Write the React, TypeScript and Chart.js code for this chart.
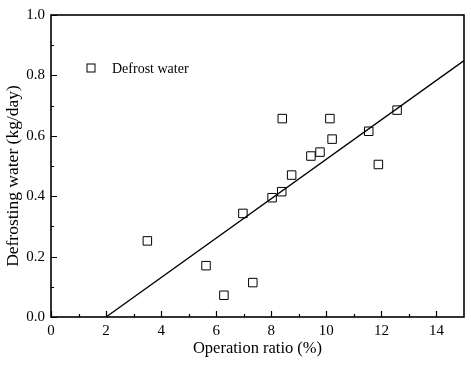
import React, { useEffect, useRef } from "react";
import { Chart, registerables } from "chart.js";

Chart.register(...registerables);

const operationRatio = [3.5, 5.63, 6.28, 6.97, 7.33, 8.03, 8.38, 8.4, 8.74, 9.44, 9.77, 10.13, 10.21, 11.54, 11.89, 12.57];
const defrostWater = [0.252, 0.17, 0.072, 0.343, 0.114, 0.395, 0.415, 0.657, 0.47, 0.533, 0.546, 0.657, 0.589, 0.615, 0.505, 0.685];
const fitX = [2, 15];
const fitY = [0, 0.849];
const xMajorTicks = [0, 2, 4, 6, 8, 10, 12, 14];
const xMinorTicks = [1, 3, 5, 7, 9, 11, 13];
const yMajorTicks = [0, 0.2, 0.4, 0.6, 0.8, 1.0];
const yMinorTicks = [0.1, 0.3, 0.5, 0.7, 0.9];
const seriesLabel = "Defrost water";
const xTitle = "Operation ratio (%)";
const yTitle = "Defrosting water (kg/day)";

const FONT = "'Liberation Serif', 'Times New Roman', serif";

const framePlugin = {
  id: "frameTicks",
  afterDraw(chart: any) {
    const { ctx, chartArea, scales } = chart;
    const { left, right, top, bottom } = chartArea;
    ctx.save();
    ctx.strokeStyle = "#000";
    ctx.lineWidth = 1.6;
    ctx.strokeRect(left, top, right - left, bottom - top);
    ctx.lineWidth = 1.2;
    const xs = scales.x;
    const ys = scales.y;
    ctx.beginPath();
    xMajorTicks.forEach((v) => {
      const p = Math.round(xs.getPixelForValue(v)) + 0.5;
      ctx.moveTo(p, bottom);
      ctx.lineTo(p, bottom - 6);
    });
    xMinorTicks.forEach((v) => {
      const p = Math.round(xs.getPixelForValue(v)) + 0.5;
      ctx.moveTo(p, bottom);
      ctx.lineTo(p, bottom - 3);
    });
    yMajorTicks.forEach((v) => {
      const p = Math.round(ys.getPixelForValue(v)) + 0.5;
      ctx.moveTo(left, p);
      ctx.lineTo(left + 6, p);
    });
    yMinorTicks.forEach((v) => {
      const p = Math.round(ys.getPixelForValue(v)) + 0.5;
      ctx.moveTo(left, p);
      ctx.lineTo(left + 3, p);
    });
    ctx.stroke();

    // legend
    const lx = left + 40;
    const ly = top + 53;
    ctx.lineWidth = 1;
    ctx.strokeStyle = "#000";
    ctx.strokeRect(lx - 4, ly - 4, 8, 8);
    ctx.fillStyle = "#000";
    ctx.font = `14px ${FONT}`;
    ctx.textBaseline = "middle";
    ctx.textAlign = "left";
    ctx.fillText(seriesLabel, lx + 21, ly + 1);

    // y title
    ctx.save();
    ctx.translate(13, (top + bottom) / 2 + 10);
    ctx.rotate(-Math.PI / 2);
    ctx.font = `17.5px ${FONT}`;
    ctx.textAlign = "center";
    ctx.textBaseline = "middle";
    ctx.fillText(yTitle, 0, 0);
    ctx.restore();
    ctx.restore();
  },
};

export default function App() {
  const ref = useRef<HTMLCanvasElement>(null);
  useEffect(() => {
    if (!ref.current) return;
    const chart = new Chart(ref.current, {
      type: "scatter",
      data: {
        datasets: [
          {
            label: seriesLabel,
            data: operationRatio.map((x, i) => ({ x, y: defrostWater[i] })),
            pointStyle: "rect",
            pointRadius: 6,
            pointBorderWidth: 1,
            pointBorderColor: "#000",
            pointBackgroundColor: "rgba(0,0,0,0)",
            showLine: false,
          },
          {
            label: "fit",
            data: fitX.map((x, i) => ({ x, y: fitY[i] })),
            showLine: true,
            borderColor: "#000",
            borderWidth: 1.3,
            pointRadius: 0,
            fill: false,
          },
        ],
      },
      options: {
        animation: false,
        responsive: false,
        layout: { padding: { top: 11, right: 7, left: 0, bottom: 12 } },
        plugins: { legend: { display: false }, tooltip: { enabled: false } },
        scales: {
          x: {
            type: "linear",
            min: 0,
            max: 15,
            afterBuildTicks: (s: any) => {
              s.ticks = xMajorTicks.map((v) => ({ value: v }));
            },
            afterFit: (s: any) => {
              s.height = 42;
            },
            grid: { display: false, drawTicks: false },
            border: { display: false },
            ticks: {
              color: "#000",
              font: { family: FONT, size: 15 },
              padding: 5,
              callback: (v: any) => String(v),
            },
            title: {
              display: true,
              text: xTitle,
              color: "#000",
              font: { family: FONT, size: 16.5 },
              padding: { top: 1, bottom: 0 },
            },
          },
          y: {
            type: "linear",
            min: 0,
            max: 1,
            afterBuildTicks: (s: any) => {
              s.ticks = yMajorTicks.map((v) => ({ value: v }));
            },
            afterFit: (s: any) => {
              s.width = 51;
            },
            grid: { display: false, drawTicks: false },
            border: { display: false },
            ticks: {
              color: "#000",
              font: { family: FONT, size: 15 },
              padding: 6,
              callback: (v: any) => Number(v).toFixed(1),
            },
          },
        },
      },
      plugins: [framePlugin],
    });
    return () => chart.destroy();
  }, []);
  return (
    <div style={{ position: "fixed", left: 0, top: 0, width: 471, height: 371, background: "#fff" }}>
      <canvas ref={ref} width={471} height={371} style={{ width: 471, height: 371 }} />
    </div>
  );
}
